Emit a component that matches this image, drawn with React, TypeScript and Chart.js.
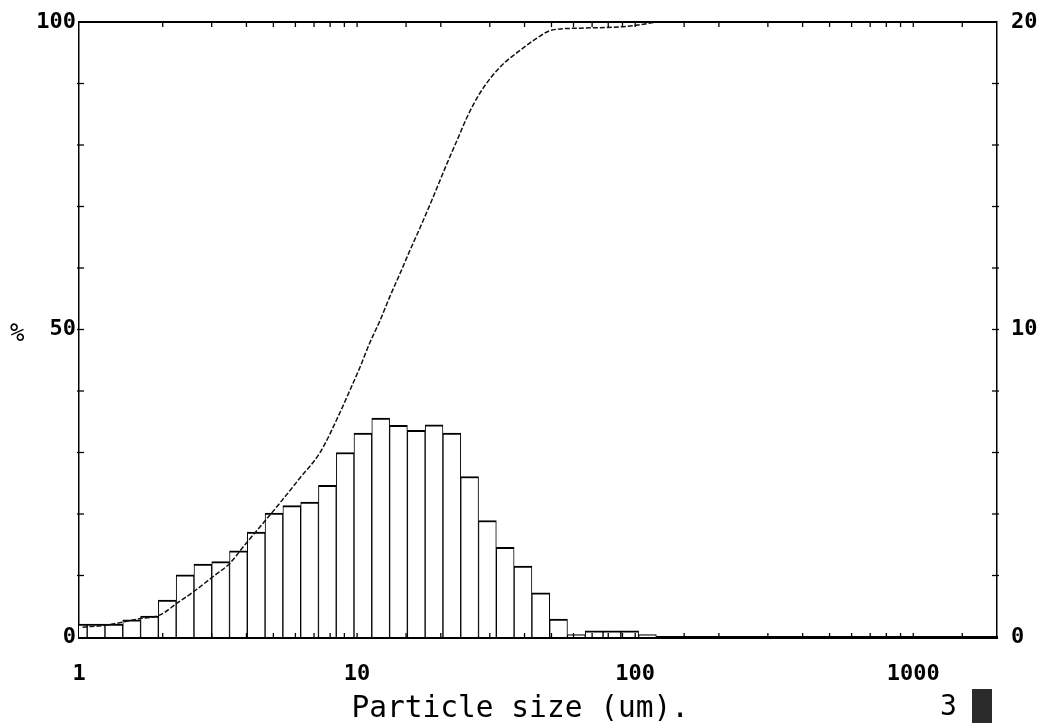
import React, { useEffect, useRef } from 'react';
import { Chart, registerables } from 'chart.js';

Chart.register(...registerables);

// Histogram bins (class centres, µm) and volume % per class (right axis)
const binSizes = [0.994, 1.152, 1.335, 1.547, 1.792, 2.077, 2.407, 2.789, 3.231, 3.743, 4.337, 5.025, 5.823, 6.747, 7.817, 9.057, 10.49, 12.16, 14.09, 16.32, 18.91, 21.92, 25.39, 29.42, 34.09, 39.5, 45.77, 53.03, 61.44, 71.19, 82.49, 95.58, 110.7];
const binPercent = [0.42, 0.42, 0.42, 0.56, 0.68, 1.2, 2.02, 2.37, 2.45, 2.8, 3.41, 4.03, 4.27, 4.39, 4.93, 6.0, 6.63, 7.12, 6.88, 6.72, 6.9, 6.63, 5.22, 3.79, 2.92, 2.31, 1.44, 0.58, 0.08, 0.2, 0.2, 0.2, 0.08];

// Cumulative undersize curve (left axis, %)
const cumSizes = [1.03, 1.24, 1.43, 1.66, 1.96, 2.25, 2.57, 3.03, 3.49, 3.95, 4.59, 5.28, 6.24, 7.36, 8.68, 9.44, 10.25, 11.1, 12.1, 13.1, 14.3, 15.5, 16.9, 18.6, 21.1, 22.9, 24.9, 27.7, 32.7, 38.6, 44.4, 50.3, 63.4, 93.6, 120];
const cumPercent = [1.6, 1.9, 2.4, 3.0, 3.6, 5.5, 7.3, 9.8, 12.0, 15.0, 18.5, 21.8, 25.9, 30.0, 36.5, 40.2, 43.9, 47.8, 51.5, 55.3, 59.2, 62.9, 66.7, 71.1, 77.1, 80.8, 84.6, 88.5, 92.7, 95.4, 97.4, 98.7, 99.0, 99.3, 100];

// Tick labels
const xMajorLabels = [1, 10, 100, 1000];
const leftLabels = [0, 50, 100];
const rightLabels = [0, 10, 20];

const MONO = '"DejaVu Sans Mono", "Liberation Mono", monospace';

const innerTicks = {
  id: 'innerTicks',
  afterDraw(chart: any) {
    const { ctx, chartArea, scales } = chart;
    const { left, right, top, bottom } = chartArea;
    ctx.save();
    ctx.strokeStyle = '#000';
    ctx.lineWidth = 2;
    ctx.beginPath();
    ctx.moveTo(left, top);
    ctx.lineTo(right, top);
    ctx.stroke();
    ctx.lineWidth = 1.3;
    const x = scales.x;
    x.ticks.forEach((t: any) => {
      const px = x.getPixelForValue(t.value);
      if (px <= left + 1 || px >= right - 1) return;
      ctx.beginPath();
      ctx.moveTo(px, top);
      ctx.lineTo(px, top + 5);
      ctx.moveTo(px, bottom);
      ctx.lineTo(px, bottom - 4);
      ctx.stroke();
    });
    const yL = scales.yL;
    yL.ticks.forEach((t: any) => {
      const py = yL.getPixelForValue(t.value);
      if (py <= top + 1 || py >= bottom - 1) return;
      ctx.beginPath();
      ctx.moveTo(left - 2, py);
      ctx.lineTo(left + 5, py);
      ctx.stroke();
    });
    const yR = scales.yR;
    yR.ticks.forEach((t: any) => {
      const py = yR.getPixelForValue(t.value);
      if (py <= top + 1 || py >= bottom - 1) return;
      ctx.beginPath();
      ctx.moveTo(right - 5, py);
      ctx.lineTo(right + 2, py);
      ctx.stroke();
    });
    ctx.restore();
  },
};

const isPow10 = (v: number) => {
  const l = Math.log10(v);
  return Math.abs(l - Math.round(l)) < 1e-9;
};

export default function App() {
  const ref = useRef<HTMLCanvasElement | null>(null);

  useEffect(() => {
    if (!ref.current) return;
    const tickFont = { family: MONO, size: 22, weight: 'bold' as const };
    const chart = new Chart(ref.current, {
      type: 'bar',
      data: {
        datasets: [
          {
            type: 'line' as const,
            label: 'Cumulative',
            data: cumSizes.map((s, i) => ({ x: s, y: cumPercent[i] })),
            xAxisID: 'x',
            yAxisID: 'yL',
            borderColor: '#111',
            borderWidth: 1.5,
            borderDash: [5, 2],
            pointRadius: 0,
            fill: false,
            cubicInterpolationMode: 'monotone' as const,
            order: 0,
          },
          {
            type: 'bar' as const,
            label: 'Volume %',
            data: binSizes.map((s, i) => ({ x: s, y: binPercent[i] })),
            xAxisID: 'x',
            yAxisID: 'yR',
            backgroundColor: '#fff',
            borderColor: '#000',
            borderWidth: { top: 2, left: 1, right: 1, bottom: 0 },
            borderSkipped: 'start',
            barThickness: 'flex',
            categoryPercentage: 1,
            barPercentage: 1,
            order: 1,
          } as any,
        ],
      },
      options: {
        animation: false,
        responsive: false,
        layout: { padding: { top: 22, left: 0, right: 0, bottom: 0 } },
        plugins: { legend: { display: false }, tooltip: { enabled: false } },
        scales: {
          x: {
            type: 'logarithmic',
            position: 'bottom',
            min: 1,
            max: 2000,
            offset: false,
            z: 1,
            grid: { display: false, drawTicks: false, offset: false },
            border: { display: true, color: '#000', width: 3 },
            ticks: {
              autoSkip: false,
              maxRotation: 0,
              minRotation: 0,
              padding: 24,
              color: '#000',
              font: tickFont,
              callback: (v: any) => (isPow10(Number(v)) && xMajorLabels.includes(Math.round(Number(v))) ? String(Math.round(Number(v))) : ''),
            },
            title: {
              display: true,
              text: 'Particle size (um).  ',
              color: '#000',
              font: { family: MONO, size: 29.5, lineHeight: 1 },
              padding: 0,
            },
            afterFit: (s: any) => {
              s.height = 87;
            },
          },
          yL: {
            type: 'linear',
            position: 'left',
            min: 0,
            max: 100,
            z: 1,
            grid: { display: false, drawTicks: false },
            border: { display: true, color: '#000', width: 1.5 },
            ticks: {
              stepSize: 10,
              autoSkip: false,
              padding: 3,
              color: '#000',
              font: tickFont,
              callback: (v: any) => (leftLabels.includes(Number(v)) ? String(v) : ''),
            },
            afterFit: (s: any) => {
              s.width = 79;
              s.paddingTop = 10;
              s.paddingBottom = 10;
            },
          },
          yR: {
            type: 'linear',
            position: 'right',
            min: 0,
            max: 20,
            z: 1,
            grid: { display: false, drawTicks: false },
            border: { display: true, color: '#000', width: 1.5 },
            ticks: {
              stepSize: 2,
              autoSkip: false,
              padding: 14,
              color: '#000',
              font: tickFont,
              callback: (v: any) => (rightLabels.includes(Number(v)) ? String(v) : ''),
            },
            afterFit: (s: any) => {
              s.width = 44;
              s.paddingTop = 10;
              s.paddingBottom = 10;
            },
          },
        },
      } as any,
      plugins: [innerTicks],
    });
    return () => chart.destroy();
  }, []);

  return (
    <div style={{ position: 'fixed', left: 0, top: 0, width: 1041, height: 724, background: '#fff' }}>
      <canvas ref={ref} width={1041} height={724} style={{ display: 'block', width: 1041, height: 724 }} />
      <span
        style={{ position: 'absolute', left: 10, top: 320, fontFamily: MONO, fontSize: 24, lineHeight: '26px', color: '#000' }}
      >
        %
      </span>
      <span
        style={{ position: 'absolute', left: 940, top: 692, fontFamily: MONO, fontSize: 28, lineHeight: '28px', color: '#000' }}
      >
        3
      </span>
      <div style={{ position: 'absolute', left: 972, top: 689, width: 20, height: 34, background: '#2b2b2b' }} />
    </div>
  );
}
